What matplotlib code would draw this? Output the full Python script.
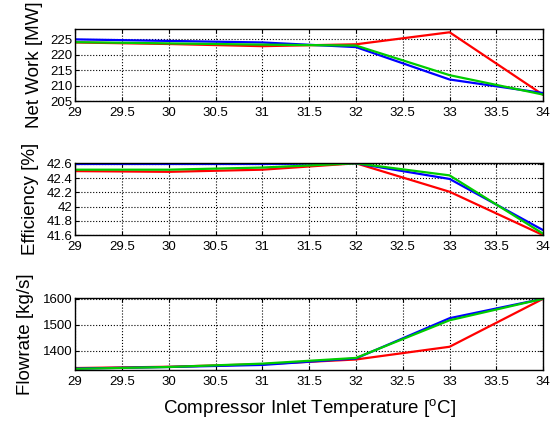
import matplotlib
matplotlib.use("Agg")
import matplotlib.pyplot as plt
from matplotlib.ticker import FormatStrFormatter, MultipleLocator

plt.rcParams['font.family'] = ['Liberation Sans', 'DejaVu Sans']

# compressor inlet temperature [C]
temp = [29, 30, 31, 32, 33, 34]

# net work [MW]
work_blue = [225.0, 224.5, 224.0, 222.5, 212.0, 207.6]
work_green = [224.1, 223.7, 223.3, 223.0, 213.4, 207.1]
work_red = [224.0, 223.5, 222.8, 223.4, 227.3, 207.0]

# efficiency [%]
eff_blue = [42.60, 42.60, 42.60, 42.61, 42.39, 41.67]
eff_green = [42.52, 42.52, 42.55, 42.61, 42.44, 41.62]
eff_red = [42.50, 42.49, 42.52, 42.61, 42.21, 41.60]

# flowrate [kg/s]
flow_blue = [1331, 1337, 1345, 1370, 1525, 1600]
flow_green = [1330, 1337, 1350, 1372, 1517, 1600]
flow_red = [1333, 1338, 1348, 1366, 1415, 1600]

panels = [
    ("Net Work [MW]", work_red, work_blue, work_green, (205, 228.3), [205, 210, 215, 220, 225]),
    ("Efficiency [%]", eff_red, eff_blue, eff_green, (41.6, 42.61), [41.6, 41.8, 42.0, 42.2, 42.4, 42.6]),
    ("Flowrate [kg/s]", flow_red, flow_blue, flow_green, (1325, 1602), [1400, 1500, 1600]),
]

fig = plt.figure(figsize=(5.56, 4.23), dpi=100)
bottoms = [0.761, 0.444, 0.125]
label_x = [-0.069, -0.078, -0.087]

for (ylabel, red, blue, green, ylim, yticks), b, lx in zip(panels, bottoms, label_x):
    ax = fig.add_axes([0.135, b, 0.842, 0.170])
    ax.plot(temp, red, color='#ff0000', lw=1.6)
    ax.plot(temp, blue, color='#0000ff', lw=1.6)
    ax.plot(temp, green, color='#00cc00', lw=1.6)
    ax.set_xlim(29, 34)
    ax.set_ylim(*ylim)
    ax.set_yticks(yticks)
    ax.yaxis.set_major_formatter(FormatStrFormatter('%g'))
    ax.xaxis.set_major_locator(MultipleLocator(0.5))
    ax.xaxis.set_major_formatter(FormatStrFormatter('%g'))
    ax.grid(True, color='black', linestyle=':', linewidth=0.8)
    ax.tick_params(direction='in', top=True, right=True, labelsize=9.5, length=3)
    ax.tick_params(axis='x', pad=4)
    ax.tick_params(axis='y', pad=2)
    for sp in ax.spines.values():
        sp.set_linewidth(1.0)
    ax.set_ylabel(ylabel, fontsize=13.5)
    ax.yaxis.set_label_coords(lx, 0.5)

ax.set_xlabel(r'Compressor Inlet Temperature [$^\mathregular{o}$C]', fontsize=13.5, labelpad=7)

fig.savefig("out.png", dpi=100)
